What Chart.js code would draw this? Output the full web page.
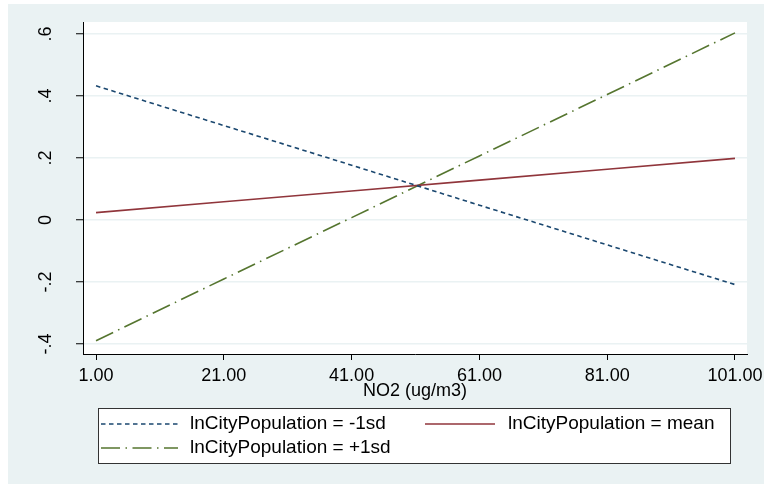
<!DOCTYPE html>
<html><head><meta charset="utf-8">
<script src="https://cdn.jsdelivr.net/npm/chart.js@4/dist/chart.umd.min.js"></script>
<style>html,body{margin:0;padding:0;background:#fff;}</style>
</head><body>
<canvas id="c" width="764" height="484" style="display:block;width:764px;height:484px"></canvas>
<script>
// ---- data ----
const no2Values = [1, 21, 41, 61, 81, 101];
const minus1sdValues = [0.433, 0.305, 0.177, 0.048, -0.080, -0.208];
const meanValues = [0.024, 0.059, 0.094, 0.129, 0.164, 0.199];
const plus1sdValues = [-0.389, -0.190, 0.008, 0.207, 0.405, 0.604];
const xTickValues = [1, 21, 41, 61, 81, 101];
const yTickValues = [-0.4, -0.2, 0, 0.2, 0.4, 0.6];
const seriesLabels = ['lnCityPopulation = -1sd', 'lnCityPopulation = mean', 'lnCityPopulation = +1sd'];
const xAxisTitle = 'NO2 (ug/m3)';

const FONT = '"Liberation Sans", Arial, Helvetica, sans-serif';
const FS = 18;
const LEG_FS = 19;
const BG = '#EAF2F3';

function pts(vals) { return no2Values.map((x, i) => ({x: x, y: vals[i]})); }
function noPad(s) { s.paddingTop = 0; s.paddingBottom = 0; s.paddingLeft = 0; s.paddingRight = 0; }

const bgPlugin = {
  id: 'bgPlugin',
  beforeDraw(chart) {
    const ctx = chart.ctx, a = chart.chartArea;
    ctx.save();
    ctx.fillStyle = '#ffffff';
    ctx.fillRect(0, 0, chart.width, chart.height);
    ctx.fillStyle = BG;
    ctx.fillRect(8, 4, chart.width - 8, chart.height - 4);
    ctx.fillStyle = '#ffffff';
    ctx.fillRect(a.left, a.top, a.right - a.left, a.bottom - a.top);
    ctx.restore();
  },
  afterDraw(chart) {
    // legend (Stata style, 2 columns)
    const ctx = chart.ctx;
    const box = {l: 98.5, t: 408.5, r: 730.5, b: 463.5};
    ctx.save();
    ctx.fillStyle = '#ffffff';
    ctx.fillRect(box.l, box.t, box.r - box.l, box.b - box.t);
    ctx.strokeStyle = '#333333';
    ctx.lineWidth = 1;
    ctx.strokeRect(box.l, box.t, box.r - box.l, box.b - box.t);
    const slots = [
      {x0: 101, x1: 178, tx: 190, y: 424},
      {x0: 425, x1: 495, tx: 508, y: 424},
      {x0: 101, x1: 178, tx: 190, y: 448}
    ];
    chart.data.datasets.forEach((ds, i) => {
      const s = slots[i];
      ctx.beginPath();
      ctx.setLineDash(ds.borderDash || []);
      ctx.strokeStyle = ds.borderColor;
      ctx.lineWidth = ds.borderWidth;
      ctx.moveTo(s.x0, s.y);
      ctx.lineTo(s.x1, s.y);
      ctx.stroke();
      ctx.setLineDash([]);
      ctx.fillStyle = '#000000';
      ctx.font = LEG_FS + 'px ' + FONT;
      ctx.textBaseline = 'middle';
      ctx.textAlign = 'left';
      ctx.fillText(ds.label, s.tx, s.y);
    });
    ctx.restore();
  }
};

new Chart(document.getElementById('c'), {
  type: 'line',
  data: {
    datasets: [
      {label: seriesLabels[0], data: pts(minus1sdValues), borderColor: '#1A476F', borderWidth: 1.6, borderDash: [4.5, 3.5], pointRadius: 0, fill: false, tension: 0},
      {label: seriesLabels[1], data: pts(meanValues), borderColor: '#90353B', borderWidth: 1.6, pointRadius: 0, fill: false, tension: 0},
      {label: seriesLabels[2], data: pts(plus1sdValues), borderColor: '#55752F', borderWidth: 1.6, borderDash: [19, 5.5, 1.5, 5.5], pointRadius: 0, fill: false, tension: 0}
    ]
  },
  options: {
    responsive: false,
    devicePixelRatio: 1,
    animation: false,
    layout: {padding: {left: 8, top: 22, right: 17, bottom: 85}},
    plugins: {legend: {display: false}, tooltip: {enabled: false}, title: {display: false}},
    scales: {
      x: {
        type: 'linear',
        min: -1.04, max: 102.88,
        afterBuildTicks(s) { s.ticks = xTickValues.map(v => ({value: v})); },
        afterFit(s) { s.height = 45; noPad(s); },
        grid: {drawOnChartArea: false, tickLength: 6, tickColor: '#000000', tickWidth: 1},
        border: {display: true, color: '#000000', width: 1},
        ticks: {
          autoSkip: false, maxRotation: 0, minRotation: 0, padding: 5,
          color: '#000000', font: {family: FONT, size: FS},
          callback: v => Number(v).toFixed(2)
        },
        title: {display: true, text: xAxisTitle, color: '#000000', font: {family: FONT, size: FS}, padding: {top: 0, bottom: -3}}
      },
      y: {
        type: 'linear',
        min: -0.432, max: 0.639,
        afterBuildTicks(s) { s.ticks = yTickValues.map(v => ({value: v})); },
        afterFit(s) { s.width = 75; noPad(s); },
        grid: {drawOnChartArea: true, color: BG, lineWidth: 1.5, tickLength: 7, tickColor: '#000000', tickWidth: 1},
        border: {display: true, color: '#000000', width: 1},
        ticks: {
          autoSkip: false, minRotation: 90, maxRotation: 90, crossAlign: 'center', padding: 19,
          color: '#000000', font: {family: FONT, size: FS},
          callback: v => Math.abs(v) < 1e-9 ? '0' : Number(v).toFixed(1).replace('0.', '.')
        }
      }
    }
  },
  plugins: [bgPlugin]
});
</script>
</body></html>
